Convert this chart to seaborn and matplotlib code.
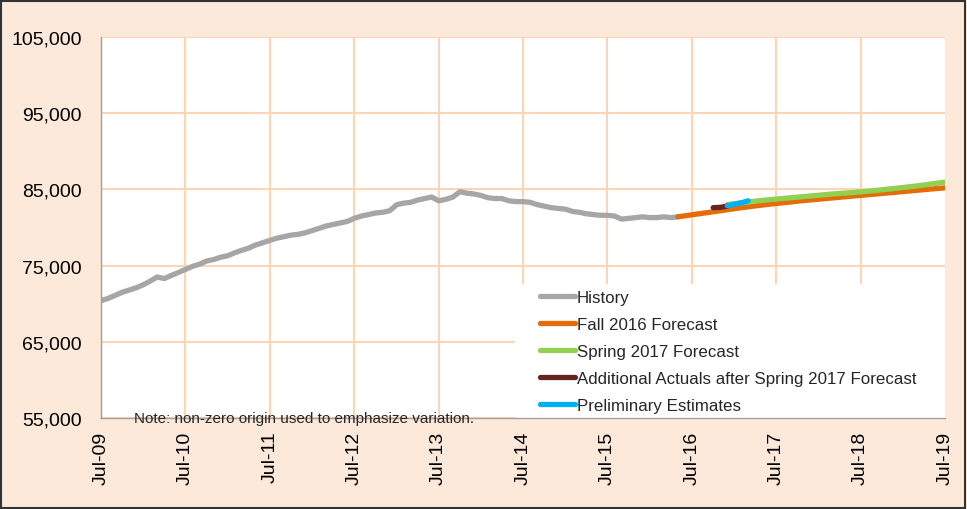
import pandas as pd
import matplotlib.pyplot as plt
import matplotlib.dates as mdates
from matplotlib.ticker import FuncFormatter
from matplotlib.patches import Rectangle
import seaborn as sns

# monthly history, Jul-09 onwards
history_values = [
    70400, 70700, 71100, 71500, 71800, 72100, 72500, 73000, 73500, 73300,
    73700, 74100, 74500, 74900, 75200, 75600, 75800, 76100, 76300, 76700,
    77000, 77300, 77700, 78000, 78300, 78600, 78800, 79000, 79100, 79300,
    79600, 79900, 80200, 80400, 80600, 80800, 81200, 81500, 81700, 81900,
    82000, 82200, 83000, 83200, 83300, 83600, 83800, 84000, 83500, 83700,
    84000, 84700, 84500, 84400, 84200, 83900, 83800, 83800, 83500, 83400,
    83400, 83300, 83000, 82800, 82600, 82500, 82400, 82100, 82000, 81800,
    81700, 81600, 81600, 81500, 81100, 81200, 81300, 81400, 81300, 81300,
    81400, 81300, 81400,
]
history_dates = pd.date_range('2009-07-01', periods=len(history_values), freq='MS')

fall16_dates = ['2016-05', '2016-08', '2016-11', '2017-02', '2017-05', '2017-08', '2017-11',
                '2018-02', '2018-05', '2018-08', '2018-11', '2019-02', '2019-05', '2019-07']
fall16_values = [81400, 81800, 82200, 82600, 82950, 83250, 83550,
                 83800, 84050, 84300, 84550, 84800, 85050, 85200]

spring17_dates = ['2016-12', '2017-03', '2017-06', '2017-09', '2017-12', '2018-03',
                  '2018-06', '2018-09', '2018-12', '2019-03', '2019-07']
spring17_values = [83000, 83350, 83650, 83900, 84150, 84400,
                   84600, 84850, 85150, 85450, 85950]

actuals_dates = ['2016-10', '2016-11', '2016-12']
actuals_values = [82600, 82650, 82800]

prelim_dates = ['2016-12', '2017-01', '2017-02', '2017-03']
prelim_values = [82850, 83050, 83250, 83500]

series = [
    ('History', history_dates, history_values, '#A6A6A6'),
    ('Fall 2016 Forecast', pd.to_datetime(fall16_dates), fall16_values, '#E46C0A'),
    ('Spring 2017 Forecast', pd.to_datetime(spring17_dates), spring17_values, '#92D050'),
    ('Additional Actuals after Spring 2017 Forecast', pd.to_datetime(actuals_dates), actuals_values, '#632523'),
    ('Preliminary Estimates', pd.to_datetime(prelim_dates), prelim_values, '#00B0F0'),
]

bg = '#FDE9D9'
grid_col = '#FCD5B4'

sns.set_style('white')
plt.rcParams['font.family'] = ['Liberation Sans', 'DejaVu Sans']

fig = plt.figure(figsize=(9.67, 5.10), dpi=100)
fig.patch.set_facecolor(bg)
# axes placed in pixel terms of the 967x510 canvas
ax = fig.add_axes([101 / 967, 1 - 419 / 510, (945 - 101) / 967, (419 - 38) / 510])
ax.set_facecolor('white')

for label, dates, values, color in series:
    df = pd.DataFrame({'date': dates, 'value': values})
    sns.lineplot(data=df, x='date', y='value', color=color, linewidth=3.8,
                 label=label, ax=ax, solid_capstyle='round')

ax.set_xlim(pd.Timestamp('2009-07-01'), pd.Timestamp('2019-07-01'))
ax.set_ylim(55000, 105000)
ax.set_yticks(range(55000, 105001, 10000))
ax.yaxis.set_major_formatter(FuncFormatter(lambda v, p: f'{int(v):,}'))
ax.xaxis.set_major_locator(mdates.MonthLocator(bymonth=7))
ax.xaxis.set_major_formatter(mdates.DateFormatter('%b-%y'))
ax.set_xlabel('')
ax.set_ylabel('')

ax.grid(True, color=grid_col, linewidth=1.5)
ax.set_axisbelow(True)
ax.get_xgridlines()[-1].set_visible(False)
for s in ['top', 'right']:
    ax.spines[s].set_visible(False)
for s in ['left', 'bottom']:
    ax.spines[s].set_color('#A0A0A0')
    ax.spines[s].set_linewidth(1.0)
    ax.spines[s].set_zorder(5)

ax.tick_params(axis='both', which='major', direction='out', length=5, width=1,
               color='#A0A0A0', labelsize=14, labelcolor='black')
ax.tick_params(axis='x', labelrotation=90, pad=4)
ax.tick_params(axis='y', pad=9)

# white box behind the legend, covering the grid down to the x axis
ax.add_patch(Rectangle((414 / 844, 0), 1 - 414 / 844, (419 - 285) / 381,
                       transform=ax.transAxes, facecolor='white', edgecolor='none',
                       zorder=1))

leg = ax.legend(loc='upper left', bbox_to_anchor=((540 - 101) / 844, 1 - (291 - 38) / 381),
                frameon=False, fontsize=12.2, handlelength=2.05,
                handletextpad=0.12, labelspacing=0.71, borderaxespad=0,
                borderpad=0)

ax.text(134 / 967, 1 - 419 / 510, 'Note: non-zero origin used to emphasize variation.',
        transform=fig.transFigure, fontsize=11, va='center', ha='left', zorder=10)

fig.patches.append(Rectangle((0.001, 0.002), 0.997, 0.995, transform=fig.transFigure,
                             fill=False, edgecolor='#333333', linewidth=1.5))

plt.savefig('out.png', dpi=100, facecolor=bg)
plt.close()
